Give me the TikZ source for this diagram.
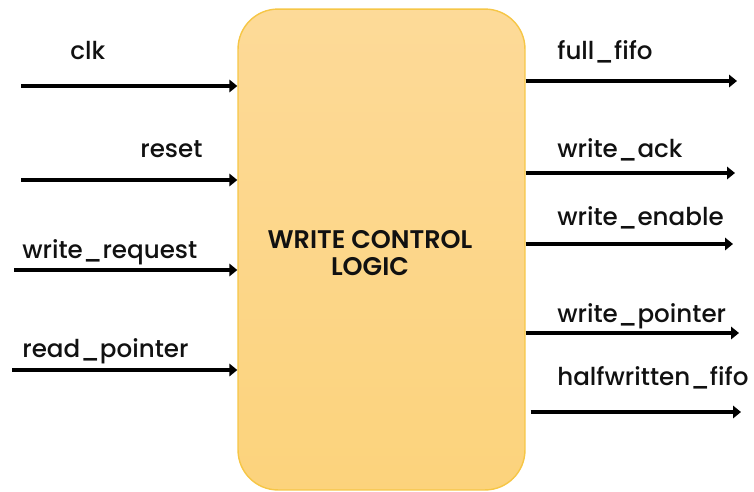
\documentclass[tikz,border=0pt]{standalone}
\usepackage{fontspec}
\setmainfont{Poppins Medium}
\newfontfamily\titlefont{Poppins SemiBold}
\usepackage{tikz}
\usetikzlibrary{arrows.meta}
\usepackage{xcolor}

\definecolor{boxtop}{RGB}{253,218,152}
\definecolor{boxbot}{RGB}{252,211,124}
\definecolor{boxline}{RGB}{246,198,70}
\definecolor{ink}{RGB}{17,17,17}

\tikzset{
    sig/.style={line width=2.8pt, -{Triangle[length=4.5pt,width=7pt]}},
    lbl/.style={anchor=base west, inner sep=0pt, text=ink, font=\fontsize{14}{16}\selectfont},
    blockbox/.style={draw=boxline, line width=0.8pt, top color=boxtop, bottom color=boxbot,
        rounded corners=0.8cm, minimum width=5.74cm, minimum height=9.62cm}
}

\begin{document}
\begin{tikzpicture}[x=0.02cm, y=-0.02cm]

    \useasboundingbox (0,0) rectangle (754,491);

    % Block
    \node[blockbox] (box) at (381.5,249.5) {};
    \node[align=center, text=ink, font=\titlefont\fontsize{14.5}{15.5}\selectfont] (title) at (370,253)
        {WRITE CONTROL\\LOGIC};

    % Inputs
    \coordinate (clk) at (21,86);
    \coordinate (rst) at (21,180);
    \coordinate (wreq) at (14,270);
    \coordinate (rptr) at (12,370);

    \draw[sig] (clk) -- (clk -| box.west);
    \draw[sig] (rst) -- (rst -| box.west);
    \draw[sig] (wreq) -- (wreq -| box.west);
    \draw[sig] (rptr) -- (rptr -| box.west);

    \node[lbl] (clklbl) at (70,59) {clk};
    \node[lbl] (rstlbl) at (140,157) {reset};
    \node[lbl] (wreqlbl) at (22,258) {write\_request};
    \node[lbl] (rptrlbl) at (22,357) {read\_pointer};

    % Outputs
    \coordinate (full) at (737,81);
    \coordinate (ack) at (735,173);
    \coordinate (wen) at (733,244);
    \coordinate (wptr) at (739,333);
    \coordinate (half) at (741,412);

    \draw[sig] (full -| box.east) -- (full);
    \draw[sig] (ack -| box.east) -- (ack);
    \draw[sig] (wen -| box.east) -- (wen);
    \draw[sig] (wptr -| box.east) -- (wptr);
    \draw[sig] ([xshift=0.1cm]half -| box.east) -- (half);

    \node[lbl] (fulllbl) at (557,59) {full\_fifo};
    \node[lbl] (acklbl) at (557,157) {write\_ack};
    \node[lbl] (wenlbl) at (557,225) {write\_enable};
    \node[lbl] (wptrlbl) at (557,322) {write\_pointer};
    \node[lbl] (halflbl) at (557,385) {halfwritten\_fifo};

\end{tikzpicture}
\end{document}
